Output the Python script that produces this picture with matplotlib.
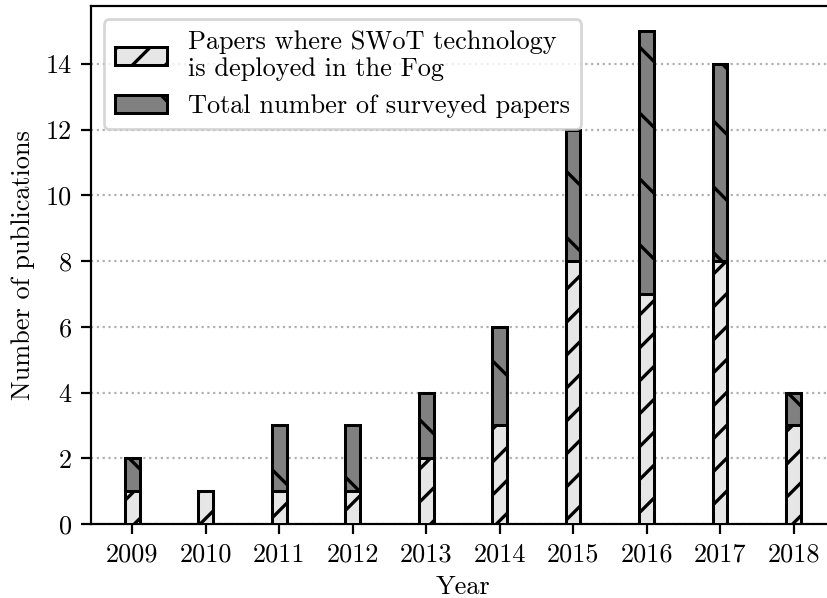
import matplotlib
matplotlib.use("Agg")
import matplotlib.pyplot as plt
import numpy as np

# ---- data ----
years = ["2009", "2010", "2011", "2012", "2013", "2014", "2015", "2016", "2017", "2018"]
fog_papers = [1, 1, 1, 1, 2, 3, 8, 7, 8, 3]
total_papers = [2, 1, 3, 3, 4, 6, 12, 15, 14, 4]
label_fog = "Papers where SWoT technology\nis deployed in the Fog"
label_total = "Total number of surveyed papers"

DPI = 395
s = 0.5  # scale of point sizes

plt.rcParams.update({
    "font.family": ["cmr10", "DejaVu Serif"],
    "font.size": 4.8,
    "axes.linewidth": 0.8 * s,
    "xtick.major.size": 3.5 * s,
    "ytick.major.size": 3.5 * s,
    "xtick.major.width": 0.8 * s,
    "ytick.major.width": 0.8 * s,
    "xtick.major.pad": 3.5 * s,
    "ytick.major.pad": 3.5 * s,
    "axes.labelpad": 4.0 * s,
    "hatch.linewidth": 0.6,
    "patch.linewidth": 1.0 * s,
    "legend.edgecolor": "0.8",
})

fig = plt.figure(figsize=(827 / DPI, 598 / DPI), dpi=DPI)
ax = fig.add_axes([91 / 827, 74 / 598, (834.8 - 91) / 827, (524 - 6.3) / 598])

x = np.arange(len(years))
w = 0.2
bars_total = ax.bar(x, total_papers, width=w, color="#808080", edgecolor="black",
                    hatch="\\\\", linewidth=0.55, zorder=2, label=label_total)
bars_fog = ax.bar(x, fog_papers, width=w, color="#e6e6e6", edgecolor="black",
                  hatch="////", linewidth=0.55, zorder=3, label=label_fog)

ax.set_xticks(x)
ax.set_xticklabels(years)
ax.set_xlim(-0.56, 9.56)
ax.set_ylim(0, 15.75)
ax.set_yticks(np.arange(0, 15, 2))
ax.yaxis.grid(True, linestyle=":", color="#b0b0b0", linewidth=0.8 * s, zorder=1)
ax.set_axisbelow(True)
ax.set_xlabel("Year", labelpad=1.5)
ax.set_ylabel("Number of publications")

ax.legend(handles=[bars_fog, bars_total], labels=[label_fog, label_total],
          loc="upper left")

fig.savefig("out.png", dpi=DPI)
